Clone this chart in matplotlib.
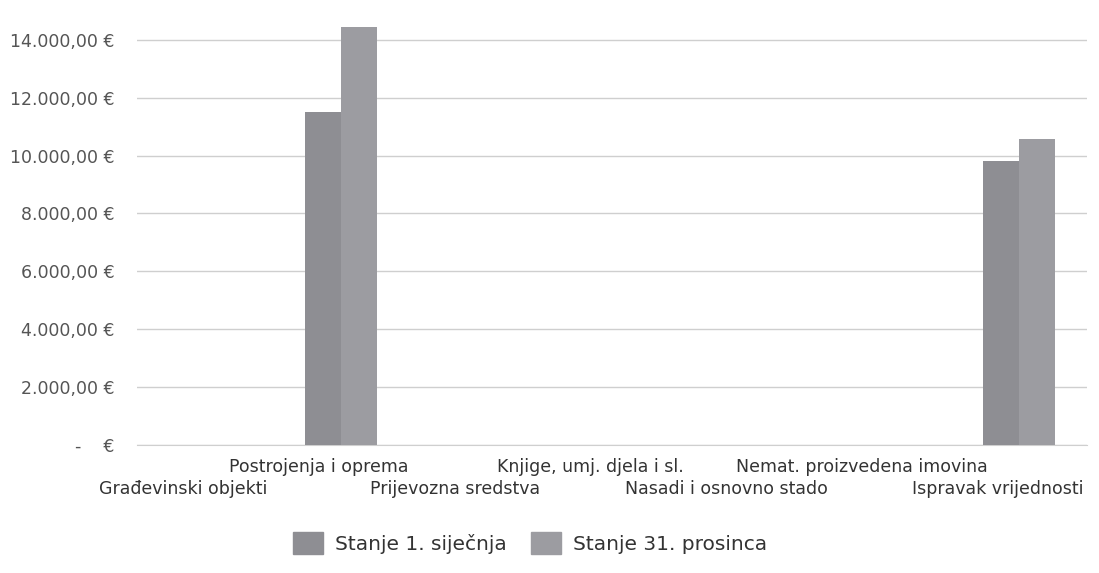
import matplotlib.pyplot as plt
import numpy as np
from matplotlib.patches import Patch

categories = [
    "Građevinski objekti",
    "Postrojenja i oprema",
    "Prijevozna sredstva",
    "Knjige, umj. djela i sl.",
    "Nasadi i osnovno stado",
    "Nemat. proizvedena imovina",
    "Ispravak vrijednosti",
]
stanje_1_sijecnja = [0, 11500, 0, 0, 0, 0, 9830]
stanje_31_prosinca = [0, 14450, 0, 0, 0, 0, 10580]
series_names = ["Stanje 1. siječnja", "Stanje 31. prosinca"]
y_ticks = [0, 2000, 4000, 6000, 8000, 10000, 12000, 14000]


def euro(v):
    if v == 0:
        return "-    €"
    s = f"{v:,.2f}".replace(",", "X").replace(".", ",").replace("X", ".")
    return f"{s} €"


fig = plt.figure(figsize=(10.99, 5.73), dpi=100)
ax = fig.add_axes([137 / 1099, 0.2234, 950 / 1099, 0.7576])

x = np.arange(len(categories))
w = 0.265
c1 = "#8e8e93"
c2 = "#9c9ca1"
ax.bar(x - w / 2, stanje_1_sijecnja, w, color=c1, zorder=3)
ax.bar(x + w / 2, stanje_31_prosinca, w, color=c2, zorder=3)

ax.set_xlim(-0.5, len(categories) - 0.5)
ax.set_ylim(0, 15000)
ax.set_yticks(y_ticks)
ax.set_yticklabels([euro(v) for v in y_ticks], color="#555555", fontsize=12.5)
ax.yaxis.grid(True, color="#cfcfcf", linewidth=1, zorder=0)

# Excel-style staggered category labels (odd ones on the upper row)
ax.set_xticks(x)
ax.set_xticklabels([])
trans = ax.get_xaxis_transform()
for i, name in enumerate(categories):
    yoff = -0.05 if i % 2 == 1 else -0.102
    ax.text(i - 0.16, yoff, name, transform=trans, ha="center", va="center",
            fontsize=12.5, color="#333333")
ax.tick_params(axis="both", length=0)
ax.tick_params(axis="y", pad=16)

for side in ["top", "right", "left"]:
    ax.spines[side].set_visible(False)
ax.spines["bottom"].set_color("#cfcfcf")

handles = [Patch(color=c1), Patch(color=c2)]
fig.legend(handles, series_names, loc="center", bbox_to_anchor=(530 / 1099, 1 - 543 / 573),
           ncol=2, frameon=False, fontsize=14.5, handlelength=1.5, handleheight=1.3,
           columnspacing=1.2, handletextpad=0.6, labelcolor="#333333")

fig.savefig("out.png", dpi=100)
